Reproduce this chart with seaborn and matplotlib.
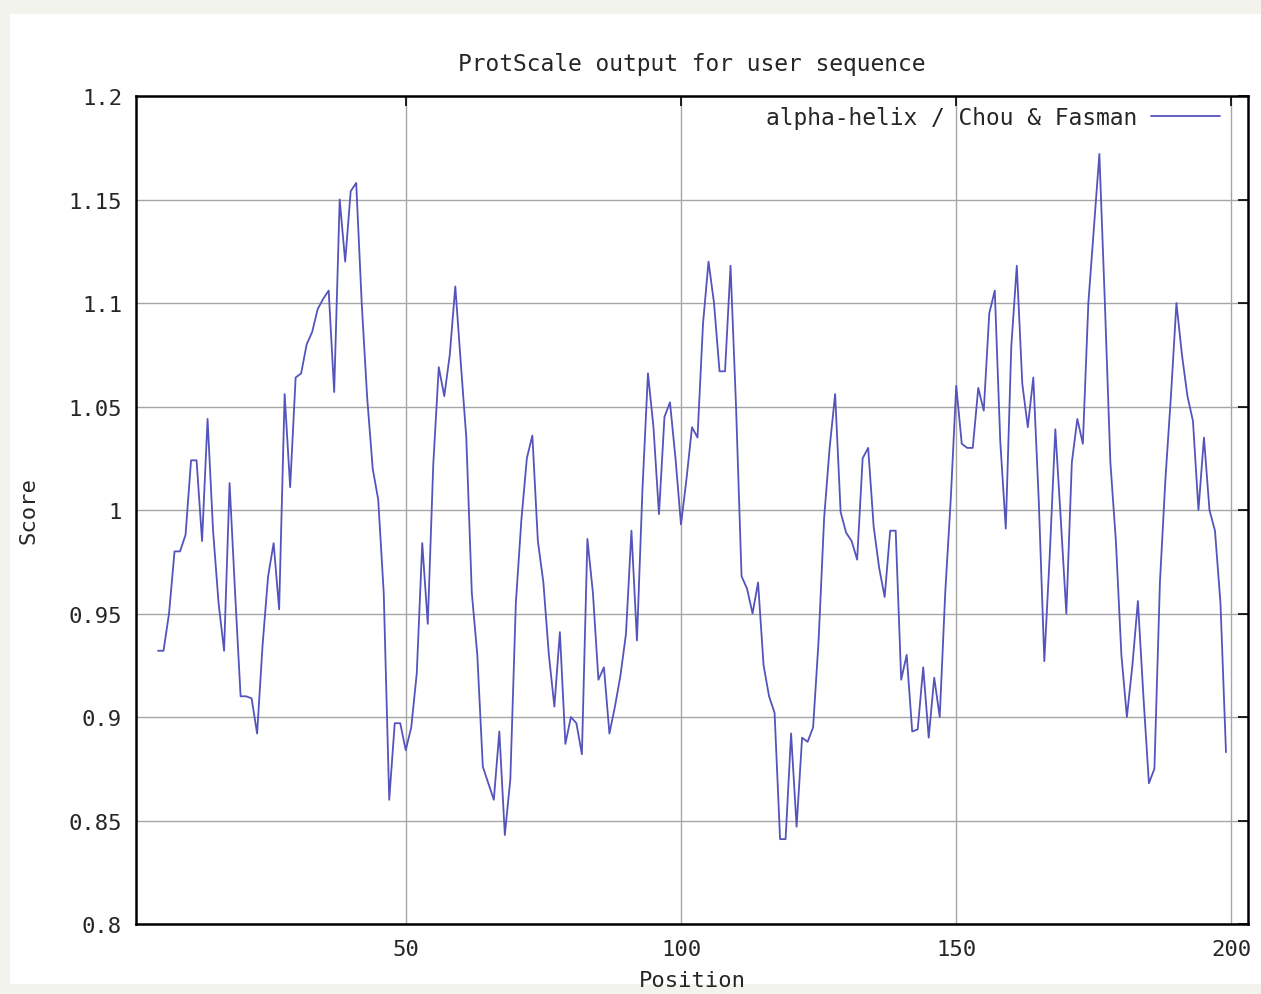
import numpy as np
import pandas as pd
import matplotlib
matplotlib.use("Agg")
import matplotlib.pyplot as plt
import seaborn as sns
from matplotlib.patches import Rectangle

# ---- data ----
title = "ProtScale output for user sequence"
series_label = "alpha-helix / Chou & Fasman"
x_label = "Position"
y_label = "Score"
first_position = 5
scores = [
    0.932, 0.932, 0.950, 0.980, 0.980, 0.988, 1.024, 1.024, 0.985, 1.044,   # 5-14
    0.990, 0.955, 0.932, 1.013, 0.960, 0.910, 0.910, 0.909, 0.892, 0.935,   # 15-24
    0.968, 0.984, 0.952, 1.056, 1.011, 1.064, 1.066, 1.080, 1.086, 1.097,   # 25-34
    1.102, 1.106, 1.057, 1.150, 1.120, 1.154, 1.158, 1.100, 1.054, 1.020,   # 35-44
    1.005, 0.960, 0.860, 0.897, 0.897, 0.884, 0.895, 0.921, 0.984, 0.945,   # 45-54
    1.022, 1.069, 1.055, 1.075, 1.108, 1.071, 1.035, 0.960, 0.930, 0.876,   # 55-64
    0.868, 0.860, 0.893, 0.843, 0.870, 0.955, 0.995, 1.025, 1.036, 0.985,   # 65-74
    0.965, 0.930, 0.905, 0.941, 0.887, 0.900, 0.897, 0.882, 0.986, 0.960,   # 75-84
    0.918, 0.924, 0.892, 0.905, 0.920, 0.940, 0.990, 0.937, 1.010, 1.066,   # 85-94
    1.040, 0.998, 1.045, 1.052, 1.025, 0.993, 1.015, 1.040, 1.035, 1.090,   # 95-104
    1.120, 1.100, 1.067, 1.067, 1.118, 1.050, 0.968, 0.962, 0.950, 0.965,   # 105-114
    0.925, 0.910, 0.902, 0.841, 0.841, 0.892, 0.847, 0.890, 0.888, 0.895,   # 115-124
    0.937, 0.996, 1.030, 1.056, 0.999, 0.989, 0.985, 0.976, 1.025, 1.030,   # 125-134
    0.992, 0.972, 0.958, 0.990, 0.990, 0.918, 0.930, 0.893, 0.894, 0.924,   # 135-144
    0.890, 0.919, 0.900, 0.960, 1.005, 1.060, 1.032, 1.030, 1.030, 1.059,   # 145-154
    1.048, 1.095, 1.106, 1.033, 0.991, 1.079, 1.118, 1.061, 1.040, 1.064,   # 155-164
    1.004, 0.927, 0.979, 1.039, 0.995, 0.950, 1.023, 1.044, 1.032, 1.100,   # 165-174
    1.136, 1.172, 1.100, 1.023, 0.985, 0.930, 0.900, 0.925, 0.956, 0.910,   # 175-184
    0.868, 0.875, 0.965, 1.015, 1.055, 1.100, 1.075, 1.055, 1.043, 1.000,   # 185-194
    1.035, 1.000, 0.990, 0.955, 0.883,                                       # 195-199
]
positions = list(range(first_position, first_position + len(scores)))
x_ticks = [50, 100, 150, 200]
y_ticks = [0.8, 0.85, 0.9, 0.95, 1.0, 1.05, 1.1, 1.15, 1.2]
y_tick_labels = ["0.8", "0.85", "0.9", "0.95", "1", "1.05", "1.1", "1.15", "1.2"]

df = pd.DataFrame({"Position": positions, "Score": scores})

# ---- style ----
sns.set_style("white")
plt.rcParams["font.family"] = ["DejaVu Sans Mono"]
FS = 16
FS_T = 16.5
TXT = "#262626"

fig = plt.figure(figsize=(12.61, 9.95), dpi=100, facecolor="#f1f3ec")
bg = Rectangle((10 / 1261, 10 / 995), 1 - 10 / 1261, 1 - 25 / 995,
               transform=fig.transFigure, facecolor="white",
               edgecolor="none", zorder=-10)
fig.patches.append(bg)

ax = fig.add_axes([136 / 1261, 1 - 925 / 995, (1248 - 136) / 1261, (925 - 97) / 995])
ax.set_zorder(1)
ax.set_facecolor("white")

sns.lineplot(data=df, x="Position", y="Score", ax=ax, color="#5454bc",
             linewidth=1.3, label=series_label)

ax.set_xlim(1, 203)
ax.set_ylim(0.8, 1.2)
ax.set_xticks(x_ticks)
ax.set_xticklabels([str(t) for t in x_ticks])
ax.set_yticks(y_ticks)
ax.set_yticklabels(y_tick_labels)
ax.grid(True, color="#a6a6a6", linewidth=1.0)
ax.set_axisbelow(True)

ax.tick_params(axis="both", which="both", direction="in", length=7, width=1.2,
               top=True, right=True, labelsize=FS, colors="black", labelcolor=TXT)
ax.tick_params(axis="x", pad=11)
ax.tick_params(axis="y", pad=10)
for s in ax.spines.values():
    s.set_visible(True)
    s.set_color("black")
    s.set_linewidth(1.8)

ax.set_xlabel(x_label, fontsize=FS, color=TXT, labelpad=7.5)
ax.set_ylabel(y_label, fontsize=FS, color=TXT, labelpad=22)
ax.set_title(title, fontsize=FS_T, color=TXT, pad=19)

leg = ax.legend(loc="upper right", bbox_to_anchor=(0.975, 0.988), frameon=False,
                markerfirst=False, handlelength=3.0, handletextpad=0.6,
                borderpad=0, borderaxespad=0, fontsize=FS_T)
for t in leg.get_texts():
    t.set_color(TXT)

fig.savefig("out.png", dpi=100, facecolor=fig.get_facecolor())
